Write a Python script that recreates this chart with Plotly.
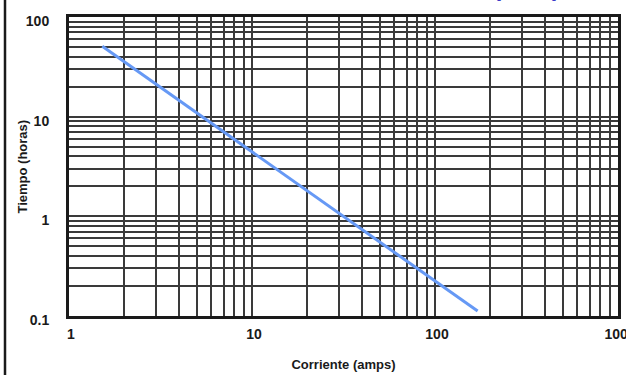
import plotly.graph_objects as go

FONT = "Liberation Sans, Arial, sans-serif"
INK = "#1a1a1a"
GRID = "#3a3a3a"
LINE_BLUE = "#6699f5"

# curve end points (log-log straight line)
corriente = [1.52, 171]
tiempo = [51, 0.112]

x_ticks = [1, 10, 100, 1000]
x_labels = ["1", "10", "100", "1000"]
y_ticks = [0.1, 1, 10, 100]
y_labels = ["0.1", "1", "10", "100"]

W, H = 626, 375
L, R, T, B = 69, 8, 17, 59
PW, PH = W - L - R, H - T - B

fig = go.Figure()
fig.add_trace(go.Scatter(
    x=corriente, y=tiempo, mode="lines",
    line=dict(color=LINE_BLUE, width=3),
    hoverinfo="skip", showlegend=False,
))

axis_common = dict(
    type="log", automargin=False,
    showline=True, linecolor=INK, linewidth=3, mirror=True,
    showgrid=True, gridcolor=GRID, gridwidth=2,
    ticks="", zeroline=False,
    tickfont=dict(family=FONT, size=14, color=INK, weight="bold"),
    title_font=dict(family=FONT, size=13, color=INK, weight="bold"),
    minor=dict(dtick="D1", showgrid=True, gridcolor=GRID, gridwidth=1.5, ticks=""),
    ticklabeloverflow="allow",
)

fig.update_xaxes(
    **axis_common,
    range=[0, 3.0001],
    tickvals=x_ticks, ticktext=x_labels,
    ticklabelstandoff=3, ticklabelshift=2,
    title_text="Corriente (amps)", title_standoff=20,
)
fig.update_yaxes(
    **axis_common,
    range=[-1, 2],
    tickvals=y_ticks, ticktext=y_labels,
    ticklabelstandoff=14, ticklabelshift=4,
)

# y title placed by hand so it sits where the reference has it
fig.add_annotation(
    x=(22 - L) / PW, y=0.5, xref="paper", yref="paper",
    xanchor="center", yanchor="middle", textangle=-90,
    text="Tiempo (horas)", showarrow=False,
    font=dict(family=FONT, size=13, color=INK, weight="bold"),
)

# dark rule down the left edge of the slide
fig.add_shape(
    type="line", xref="paper", yref="paper",
    x0=(5 - L) / PW, x1=(5 - L) / PW,
    y0=-(B + 5) / PH, y1=1 + (T + 5) / PH,
    line=dict(color=INK, width=2.5),
)

# bottom of a heading cut off by the top edge
for xp, ch in [(497, "("), (556, ")")]:
    fig.add_annotation(
        x=(xp - L) / PW, y=1 + (T - 3) / PH,
        xref="paper", yref="paper", xanchor="center", yanchor="bottom",
        text=ch, showarrow=False,
        font=dict(family=FONT, size=24, color="#3c3cc8", weight="bold"),
    )

fig.update_layout(
    width=W, height=H,
    margin=dict(l=L, r=R, t=T, b=B, autoexpand=False),
    paper_bgcolor="white", plot_bgcolor="white",
    font=dict(family=FONT, size=13, color=INK),
)

fig.write_html(
    "out.html",
    config={"displayModeBar": False},
    post_script="document.body.style.margin='0px';",
)
